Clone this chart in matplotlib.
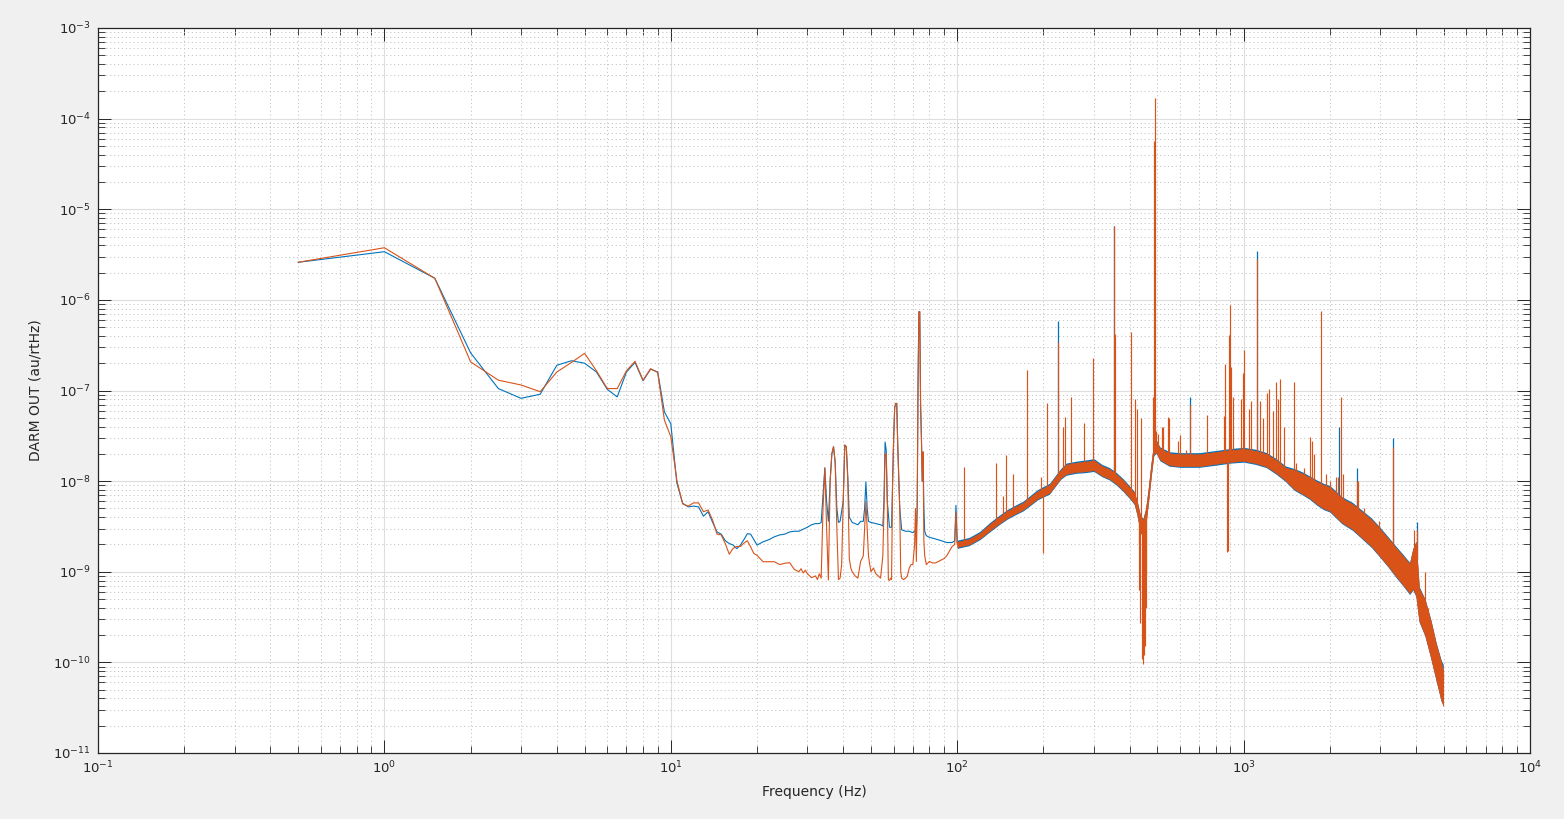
import numpy as np
import matplotlib
matplotlib.use("Agg")
import matplotlib.pyplot as plt
from matplotlib.ticker import FixedLocator, LogLocator, NullFormatter, LogFormatterSciNotation

# ---------------- data ----------------
# low-frequency part, drawn as plain lines
blue_low_f = [0.5, 1, 1.5, 2, 2.5, 3, 3.5, 4, 4.5, 5, 5.5, 6, 6.5, 7, 7.5, 8, 8.5, 9, 9.5, 10,
              10.5, 11, 11.5, 12, 12.5, 13, 13.5, 14, 14.5, 15, 15.5, 16, 16.5, 17, 17.5, 18, 18.5,
              19, 19.5, 20, 21, 22, 23, 24, 25, 26, 27, 28, 29, 30, 31, 32, 33, 33.5, 34, 34.5, 35,
              35.5, 36, 36.5, 37, 37.5, 38, 38.5, 39, 40, 40.5, 41, 41.5, 42, 43, 44, 45, 46, 47,
              47.5, 48, 48.5, 49, 50, 52, 54, 55, 55.5, 56, 56.5, 57, 58, 59, 59.5, 60, 60.5, 61,
              61.5, 62, 62.5, 63, 64, 66, 68, 70, 71, 72, 72.5, 73, 73.5, 74, 74.5, 75, 75.5, 76,
              76.5, 77, 78, 80, 84, 88, 92, 96, 98, 99, 100]
blue_low_v = [2.6e-6, 3.4e-6, 1.73e-6, 2.6e-7, 1.05e-7, 8.2e-8, 9.1e-8, 1.9e-7, 2.13e-7, 2.0e-7,
              1.6e-7, 1.03e-7, 8.5e-8, 1.6e-7, 2.04e-7, 1.28e-7, 1.72e-7, 1.6e-7, 5.8e-8, 4.3e-8,
              9.5e-9, 5.7e-9, 5.2e-9, 5.3e-9, 5.2e-9, 4.1e-9, 4.6e-9, 3.5e-9, 2.75e-9, 2.6e-9,
              2.2e-9, 2.05e-9, 1.97e-9, 1.8e-9, 1.97e-9, 2.26e-9, 2.63e-9, 2.6e-9, 2.26e-9, 1.97e-9,
              2.14e-9, 2.26e-9, 2.43e-9, 2.55e-9, 2.6e-9, 2.75e-9, 2.8e-9, 2.8e-9, 2.95e-9, 3.1e-9,
              3.3e-9, 3.4e-9, 3.4e-9, 3.5e-9, 7e-9, 1.4e-8, 6e-9,
              3.6e-9, 1.0e-8, 2.0e-8, 2.4e-8, 1.6e-8, 5e-9, 3.5e-9, 3.6e-9, 6e-9, 2.5e-8, 2.4e-8,
              1.1e-8, 4e-9, 3.5e-9, 3.4e-9, 3.3e-9, 3.6e-9, 3.6e-9,
              5e-9, 9.8e-9, 5e-9, 3.6e-9, 3.5e-9, 3.4e-9, 3.3e-9, 3.2e-9, 6e-9, 2.7e-8, 2.2e-8,
              6e-9, 3.1e-9, 3.1e-9, 1.0e-8, 3e-8, 6.5e-8, 7.2e-8,
              7.2e-8, 2.5e-8, 1.1e-8, 5e-9, 2.9e-9, 2.8e-9, 2.8e-9, 2.7e-9, 2.8e-9, 3e-9, 5e-9,
              1.3e-7, 7.4e-7, 7.4e-7, 7e-8, 3e-8, 1e-8, 2.1e-8,
              5e-9, 2.8e-9, 2.5e-9, 2.4e-9, 2.3e-9, 2.2e-9, 2.1e-9, 2.1e-9, 2.2e-9, 5.4e-9, 2.1e-9]

orange_low_f = [0.5, 1, 1.5, 2, 2.5, 3, 3.5, 4, 4.5, 5, 5.5, 6, 6.5, 7, 7.5, 8, 8.5, 9, 9.5, 10,
                10.5, 11, 11.5, 12, 12.5, 13, 13.5, 14, 14.5, 15, 15.5, 16, 16.5, 17, 17.5, 18,
                18.5, 19, 19.5, 20, 21, 22, 23, 24, 25, 26, 27, 28, 28.5, 29, 29.5, 30, 31, 32,
                32.5, 33, 33.5, 34, 34.5, 35, 35.5, 36, 36.5, 37, 37.5, 38, 38.5, 39, 39.5, 40,
                40.5, 41, 41.5, 42, 42.5, 43, 44, 45, 46, 47, 47.5, 48, 48.5, 49, 49.5, 50, 51,
                52, 53, 54, 55, 55.5, 56, 56.5, 57, 57.5, 58, 58.5, 59, 59.5, 60, 60.5, 61, 61.5,
                62, 62.5, 63, 63.5, 64, 65, 66, 67, 68, 69, 70, 71, 71.5, 72, 72.5, 73, 73.5, 74,
                74.5, 75, 75.5, 76, 76.5, 77, 78, 79, 80, 82, 84, 86, 88, 90, 92, 94, 96, 98, 99,
                100]
orange_low_v = [2.6e-6, 3.76e-6, 1.73e-6, 2.07e-7, 1.3e-7, 1.15e-7, 9.7e-8, 1.6e-7, 2.04e-7,
                2.57e-7, 1.65e-7, 1.05e-7, 1.05e-7, 1.65e-7, 2.1e-7, 1.3e-7, 1.74e-7, 1.58e-7,
                4.7e-8, 3.1e-8, 1.02e-8, 5.6e-9, 5.3e-9, 5.75e-9, 5.75e-9, 4.6e-9, 4.8e-9, 3.7e-9,
                2.6e-9, 2.55e-9, 2.04e-9, 1.56e-9, 1.81e-9, 1.9e-9, 1.9e-9, 2.07e-9, 2.2e-9,
                1.88e-9, 1.59e-9, 1.52e-9, 1.29e-9, 1.29e-9, 1.29e-9, 1.2e-9, 1.24e-9, 1.26e-9,
                1.06e-9, 1.0e-9, 1.08e-9, 0.97e-9, 1.04e-9, 0.95e-9, 0.86e-9, 0.9e-9,
                0.82e-9, 0.95e-9, 0.85e-9, 5e-9, 1.4e-8, 3e-9, 0.81e-9, 1.0e-8, 2.0e-8, 2.4e-8,
                1.6e-8, 3e-9, 0.82e-9, 0.85e-9, 1.2e-9, 6e-9,
                2.5e-8, 2.4e-8, 1.0e-8, 1.4e-9, 1.1e-9, 1.0e-9, 0.9e-9, 0.85e-9, 1.3e-9, 1.5e-9,
                3e-9, 5.9e-9, 3e-9, 1.5e-9, 1.2e-9, 1.0e-9, 1.1e-9,
                0.95e-9, 0.9e-9, 0.85e-9, 1.5e-9, 5e-9, 2.0e-8, 2.0e-8, 6e-9, 0.82e-9, 0.8e-9,
                0.85e-9, 0.82e-9, 1.0e-8, 3e-8, 6.5e-8, 7.2e-8, 7.2e-8,
                2.5e-8, 1.1e-8, 5e-9, 1.0e-9, 0.85e-9, 0.82e-9, 0.85e-9, 0.9e-9, 1.1e-9, 1.2e-9,
                1.2e-9, 2e-9, 5e-9, 1.3e-9, 5e-9, 1.3e-7, 7.4e-7, 7.4e-7,
                7e-8, 3e-8, 1e-8, 2.1e-8, 2.2e-9, 1.5e-9, 1.2e-9, 1.25e-9, 1.3e-9, 1.25e-9,
                1.25e-9, 1.3e-9, 1.35e-9, 1.4e-9, 1.5e-9, 1.7e-9, 1.9e-9, 2.0e-9, 4.5e-9,
                2.0e-9]

# high-frequency noise band (lower / upper envelope)
band_f = [100, 110, 120, 130, 140, 150, 160, 170, 180, 190, 200, 210, 220, 230, 240, 260, 280,
          300, 320, 340, 360, 380, 400, 415, 425, 435, 445, 455, 465, 475, 485, 495, 510, 550,
          600, 700, 800, 900, 1000, 1100, 1200, 1300, 1400, 1500, 1600, 1700, 1800, 1900, 2000,
          2200, 2400, 2600, 2800, 3000, 3200, 3400, 3600, 3800, 3900, 4000, 4100, 4300, 4500,
          4700, 4900, 4980]
orange_band_lo = [1.87e-9, 2.0e-9, 2.33e-9, 2.85e-9, 3.4e-9, 3.95e-9, 4.4e-9, 4.85e-9, 5.55e-9,
                  6.35e-9, 6.9e-9, 7.4e-9, 9.0e-9, 1.08e-8, 1.2e-8, 1.26e-8, 1.28e-8, 1.32e-8,
                  1.15e-8, 1.06e-8, 9.3e-9, 7.9e-9, 6.6e-9, 5.7e-9, 4.3e-9, 2.9e-9, 2.4e-9, 3.3e-9,
                  6.0e-9, 1.13e-8, 1.95e-8, 2.1e-8, 1.73e-8, 1.5e-8, 1.46e-8, 1.46e-8, 1.55e-8,
                  1.63e-8, 1.67e-8, 1.58e-8, 1.45e-8, 1.23e-8, 1.02e-8, 8.2e-9, 7.3e-9, 6.5e-9,
                  5.6e-9, 5.0e-9, 4.7e-9, 3.5e-9, 2.95e-9, 2.35e-9, 1.9e-9, 1.47e-9, 1.15e-9,
                  9.0e-10, 7.2e-10, 5.8e-10, 6.5e-10, 5.5e-10, 2.9e-10, 2.0e-10, 1.15e-10, 6.5e-11,
                  3.8e-11, 3.3e-11]
orange_band_hi = [2.14e-9, 2.3e-9, 2.68e-9, 3.37e-9, 4.03e-9, 4.7e-9, 5.25e-9, 5.8e-9, 6.7e-9,
                  7.7e-9, 8.4e-9, 9.1e-9, 1.11e-8, 1.33e-8, 1.52e-8, 1.6e-8, 1.64e-8, 1.7e-8,
                  1.47e-8, 1.36e-8, 1.19e-8, 1.02e-8, 8.5e-9, 7.4e-9, 5.8e-9, 4.2e-9, 3.7e-9, 4.8e-9,
                  8.1e-9, 1.5e-8, 2.5e-8, 2.75e-8, 2.3e-8, 2.03e-8, 1.98e-8, 1.98e-8, 2.1e-8,
                  2.2e-8, 2.27e-8, 2.16e-8, 1.99e-8, 1.7e-8, 1.41e-8, 1.33e-8, 1.22e-8, 1.1e-8,
                  9.9e-9, 9.1e-9, 8.6e-9, 6.5e-9, 5.6e-9, 4.55e-9, 3.75e-9, 2.95e-9, 2.33e-9,
                  1.85e-9, 1.5e-9, 1.22e-9, 1.75e-9, 2.1e-9, 6.6e-10, 4.8e-10, 2.9e-10, 1.6e-10,
                  1.0e-10, 8.0e-11]
blue_band_lo = [1.81e-9, 1.94e-9, 2.26e-9, 2.76e-9, 3.3e-9, 3.83e-9, 4.27e-9, 4.7e-9, 5.38e-9,
                6.16e-9, 6.7e-9, 7.18e-9, 8.73e-9, 1.05e-8, 1.16e-8, 1.22e-8, 1.24e-8, 1.28e-8,
                1.12e-8, 1.03e-8, 9.0e-9, 7.66e-9, 6.4e-9, 5.53e-9, 4.17e-9, 2.81e-9, 2.33e-9,
                3.2e-9, 5.82e-9, 1.1e-8, 1.89e-8, 2.04e-8, 1.68e-8, 1.46e-8, 1.42e-8, 1.42e-8,
                1.5e-8, 1.58e-8, 1.62e-8, 1.53e-8, 1.41e-8, 1.19e-8, 9.9e-9, 7.95e-9, 7.08e-9,
                6.3e-9, 5.43e-9, 4.85e-9, 4.56e-9, 3.4e-9, 2.86e-9, 2.28e-9, 1.84e-9, 1.43e-9,
                1.12e-9, 8.7e-10, 7.0e-10, 5.6e-10, 6.3e-10, 5.3e-10, 2.8e-10, 1.94e-10,
                1.12e-10, 6.3e-11, 3.7e-11, 3.4e-11]
blue_band_hi = [2.23e-9, 2.39e-9, 2.79e-9, 3.5e-9, 4.19e-9, 4.89e-9, 5.46e-9, 6.03e-9, 6.97e-9,
                8.0e-9, 8.74e-9, 9.46e-9, 1.15e-8, 1.38e-8, 1.58e-8, 1.66e-8, 1.71e-8, 1.77e-8,
                1.53e-8, 1.41e-8, 1.24e-8, 1.06e-8, 8.84e-9, 7.7e-9, 6.03e-9, 4.37e-9, 3.85e-9,
                4.99e-9, 8.42e-9, 1.56e-8, 2.6e-8, 2.86e-8, 2.39e-8, 2.11e-8, 2.06e-8, 2.06e-8,
                2.18e-8, 2.29e-8, 2.36e-8, 2.25e-8, 2.07e-8, 1.77e-8, 1.47e-8, 1.38e-8, 1.27e-8,
                1.14e-8, 1.03e-8, 9.46e-9, 8.94e-9, 6.76e-9, 5.82e-9, 4.73e-9, 3.9e-9, 3.07e-9,
                2.42e-9, 1.92e-9, 1.56e-9, 1.27e-9, 1.82e-9, 2.2e-9, 6.9e-10, 5.0e-10, 3.0e-10,
                1.66e-10, 1.05e-10, 9.5e-11]

# narrow lines (spikes and dips): frequency, lower end, upper end
orange_spike_f = [106, 136.5, 144.7, 148.6, 156.8, 175.4, 195.9, 200, 206, 224.5, 234.7, 237.6,
                  249.5, 277, 298, 353, 357, 405, 418, 423, 430, 432, 436, 440, 443, 446, 448,
                  450, 452, 455, 458, 484, 487, 490, 496, 504, 520, 524, 544, 550, 590, 600, 627,
                  650, 748, 852, 864, 877, 884, 890, 893, 902, 917, 980, 993, 1001, 1046, 1060,
                  1110, 1140, 1170, 1205, 1225, 1265, 1300, 1320, 1340, 1380, 1500, 1530, 1630,
                  1700, 1740, 1760, 1866, 1940, 2000, 2100, 2140, 2180, 2230, 2480, 2510, 2640,
                  2960, 3335, 3950, 4030, 4310, 4400]
orange_spike_lo = [2.1e-9, 3.4e-9, 4.0e-9, 4.2e-9, 4.6e-9, 5.7e-9, 7.4e-9, 1.6e-9, 8.0e-9, 1.1e-8,
                   1.25e-8, 1.3e-8, 1.38e-8, 1.45e-8, 1.5e-8, 1.1e-8, 1.1e-8, 7.2e-9, 6.2e-9,
                   5.3e-9, 6.3e-10, 2.0e-9, 2.7e-10, 3.2e-9, 1.1e-10, 9.7e-11, 1.2e-10, 1.5e-9,
                   1.5e-10, 4e-10, 9.5e-10, 2.2e-8, 2.2e-8, 2.3e-8, 2.4e-8, 2.1e-8, 1.95e-8,
                   1.9e-8, 1.8e-8, 1.75e-8, 1.7e-8, 1.7e-8, 1.7e-8, 1.7e-8, 1.75e-8, 1.85e-8,
                   1.85e-8, 1.65e-9, 1.7e-9, 1.9e-8, 1.9e-8, 1.9e-8, 1.9e-8, 1.95e-8, 1.95e-8,
                   1.95e-8, 1.9e-8, 1.9e-8, 1.85e-8, 1.8e-8, 1.75e-8, 1.7e-8, 1.65e-8, 1.55e-8,
                   1.45e-8, 1.4e-8, 1.35e-8, 1.25e-8, 1.05e-8, 1.0e-8, 9.2e-9, 8.5e-9, 8.0e-9,
                   7.8e-9, 7.0e-9, 6.6e-9, 6.4e-9, 5.5e-9, 5.2e-9, 5.0e-9, 4.7e-9, 3.8e-9,
                   3.7e-9, 3.2e-9, 2.2e-9, 1.4e-9, 1.3e-9, 1.4e-9, 3.2e-10, 2.6e-10]
orange_spike_hi = [1.45e-8, 1.6e-8, 6.8e-9, 1.95e-8, 1.2e-8, 1.7e-7, 1.1e-8, 7.6e-9, 7.2e-8, 3.4e-7,
                   4.0e-8, 5.1e-8, 8.5e-8, 4.4e-8, 2.3e-7, 6.5e-6, 4.2e-7, 4.4e-7, 8.1e-8, 6.3e-8,
                   4.3e-9, 4.0e-9, 3.8e-9, 5.0e-8, 3.2e-9, 3.0e-9, 3.0e-9, 3.5e-9, 3.6e-9, 4.0e-9,
                   5e-9, 8.5e-8, 5.6e-5, 1.7e-4, 3.6e-8, 3.3e-8, 4.0e-8, 4.0e-8, 5.1e-8, 5e-8,
                   2.8e-8, 3.2e-8, 2.2e-8, 7.0e-8, 5.4e-8, 5.2e-8, 1.95e-7, 1.85e-8, 1.85e-8,
                   4.1e-7, 8.8e-7, 1.8e-7, 8.5e-8, 8e-8, 1.55e-7, 2.8e-7, 6.2e-8, 7.6e-8, 2.8e-6,
                   7.6e-8, 5e-8, 9.5e-8, 1.05e-7, 6e-8, 1.25e-7, 8e-8, 1.35e-7, 4e-8, 1.25e-7,
                   1.6e-8, 1.4e-8, 3.1e-8, 2.8e-8, 2.0e-8, 7.6e-7, 1.2e-8, 1.0e-8, 1.1e-8, 1.1e-8,
                   8.5e-8, 1.2e-8, 1.0e-8, 1.0e-8, 5e-9, 3.6e-9, 2.4e-8, 2.9e-9, 2.9e-9, 1.0e-9,
                   4.0e-10]

blue_spike_f = [224.5, 353, 650, 1110, 2160, 2480, 3335, 4030]
blue_spike_lo = [1.1e-8, 1.1e-8, 1.7e-8, 1.85e-8, 5.0e-9, 3.8e-9, 1.4e-9, 1.4e-9]
blue_spike_hi = [5.9e-7, 6.6e-6, 8.5e-8, 3.5e-6, 4.0e-8, 1.4e-8, 3.0e-8, 3.5e-9]

x_ticks = [1e-1, 1e0, 1e1, 1e2, 1e3, 1e4]
y_ticks = [1e-11, 1e-10, 1e-9, 1e-8, 1e-7, 1e-6, 1e-5, 1e-4, 1e-3]

# ---------------- drawing ----------------
BLUE = "#0072BD"
ORANGE = "#D95319"
AX_COLOR = "#262626"

fig = plt.figure(figsize=(15.64, 8.19), dpi=100, facecolor="#F0F0F0")
ax = fig.add_axes([98 / 1564, 1 - 753 / 819, (1530 - 98) / 1564, (753 - 28) / 819])
ax.set_facecolor("white")
ax.set_xscale("log")
ax.set_yscale("log")

# blue series
ax.fill_between(band_f, blue_band_lo, blue_band_hi, color=BLUE, lw=0, zorder=2)
ax.plot(blue_low_f, blue_low_v, color=BLUE, lw=0.8, zorder=2)
ax.vlines(blue_spike_f, blue_spike_lo, blue_spike_hi, color=BLUE, lw=0.9, zorder=2)

# orange series (on top)
ax.fill_between(band_f, orange_band_lo, orange_band_hi, color=ORANGE, lw=0.4, zorder=3)
ax.plot(orange_low_f, orange_low_v, color=ORANGE, lw=0.8, zorder=3)
ax.vlines(orange_spike_f, orange_spike_lo, orange_spike_hi, color=ORANGE, lw=0.85, zorder=3)

ax.set_xlim(1e-1, 1e4)
ax.set_ylim(1e-11, 1e-3)

ax.xaxis.set_major_locator(FixedLocator(x_ticks))
ax.yaxis.set_major_locator(FixedLocator(y_ticks))
ax.xaxis.set_major_formatter(LogFormatterSciNotation())
ax.yaxis.set_major_formatter(LogFormatterSciNotation())
ax.xaxis.set_minor_locator(LogLocator(base=10, subs=np.arange(2, 10), numticks=100))
ax.yaxis.set_minor_locator(LogLocator(base=10, subs=np.arange(2, 10), numticks=100))
ax.xaxis.set_minor_formatter(NullFormatter())
ax.yaxis.set_minor_formatter(NullFormatter())

ax.set_axisbelow(True)
ax.grid(True, which="major", color="#DEDEDE", lw=0.8, ls="-")
ax.grid(True, which="minor", color="#C4C4C4", lw=0.7, ls=(0, (1.2, 2.8)))

ax.tick_params(which="both", direction="in", top=True, right=True, colors=AX_COLOR,
               labelcolor=AX_COLOR, labelsize=9.5)
ax.tick_params(which="major", length=9.5, width=0.7, pad=5)
ax.tick_params(which="minor", length=4.8, width=0.6)
for s in ax.spines.values():
    s.set_color(AX_COLOR)
    s.set_linewidth(0.9)

ax.set_xlabel("Frequency (Hz)", fontsize=10, color=AX_COLOR, labelpad=6)
ax.set_ylabel("DARM OUT (au/rtHz)", fontsize=10, color=AX_COLOR, labelpad=8)

fig.savefig("out.png", dpi=100, facecolor=fig.get_facecolor())
